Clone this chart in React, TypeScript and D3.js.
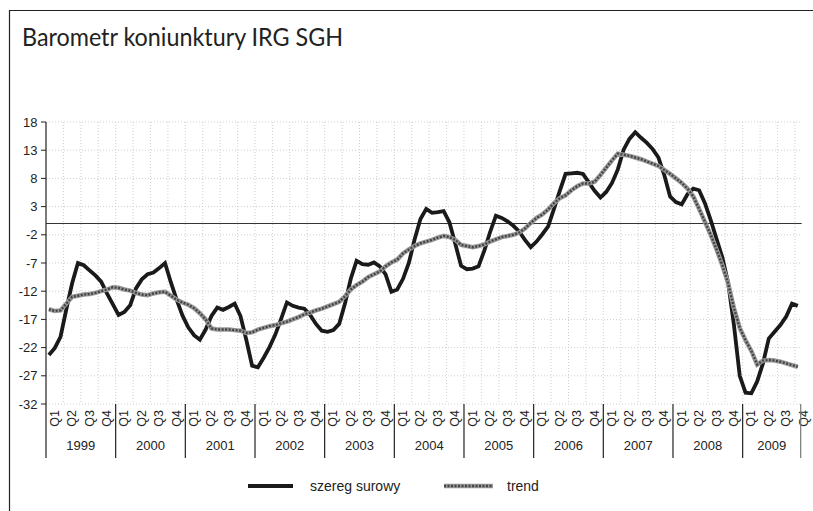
import React, { useRef, useEffect } from 'react';
import * as d3 from 'd3';

// dane miesieczne: 1999-01 .. 2009-10
const years = ['1999', '2000', '2001', '2002', '2003', '2004', '2005', '2006', '2007', '2008', '2009'];
const quarters = ['Q1', 'Q2', 'Q3', 'Q4'];
const yTicks = [18, 13, 8, 3, -2, -7, -12, -17, -22, -27, -32];

const rawSeries = [
  -23.3, -22.1, -20.1, -15.2, -10.6, -7.0, -7.4, -8.3, -9.2, -10.3, -12.4, -14.3, // 1999
  -16.2, -15.7, -14.5, -11.5, -9.9, -9.0, -8.7, -7.9, -7.0, -10.4, -13.5, -16.3, // 2000
  -18.4, -19.8, -20.6, -18.8, -16.4, -14.9, -15.3, -14.8, -14.2, -16.4, -20.6, -25.2, // 2001
  -25.5, -23.8, -21.9, -19.7, -16.9, -14.0, -14.6, -14.9, -15.1, -16.2, -17.8, -19.0, // 2002
  -19.2, -18.9, -17.8, -14.2, -9.8, -6.6, -7.2, -7.3, -6.9, -7.6, -9.0, -12.1, // 2003
  -11.7, -9.8, -7.0, -2.8, 0.8, 2.6, 1.9, 2.0, 2.2, 0.2, -3.6, -7.5, // 2004
  -8.1, -8.0, -7.6, -4.8, -1.5, 1.4, 1.0, 0.4, -0.4, -1.4, -2.9, -4.2, // 2005
  -3.2, -1.9, -0.5, 2.6, 5.8, 8.8, 8.9, 9.0, 8.8, 7.3, 5.8, 4.6, // 2006
  5.6, 7.2, 9.6, 13.1, 15.0, 16.2, 15.2, 14.3, 13.2, 11.7, 8.6, 4.8, // 2007
  3.8, 3.4, 5.2, 6.2, 5.9, 3.6, 0.6, -2.7, -6.0, -10.5, -18.0, -27.0, // 2008
  -30.0, -30.1, -28.0, -24.8, -20.4, -19.2, -18.0, -16.5, -14.2, -14.6 // 2009
];

const trendSeries = [
  -15.2, -15.5, -15.4, -14.2, -13.0, -12.8, -12.6, -12.5, -12.3, -12.0, -11.7, -11.3, // 1999
  -11.4, -11.7, -11.9, -12.3, -12.6, -12.7, -12.4, -12.2, -12.1, -12.8, -13.5, -14.0, // 2000
  -14.4, -15.0, -15.9, -17.0, -18.6, -18.8, -18.8, -18.8, -18.9, -19.0, -19.4, -19.3, // 2001
  -18.8, -18.5, -18.2, -18.0, -17.7, -17.4, -17.0, -16.6, -16.1, -15.8, -15.4, -15.1, // 2002
  -14.7, -14.3, -13.9, -12.9, -11.7, -10.9, -10.3, -9.5, -9.0, -8.5, -7.6, -6.9, // 2003
  -6.4, -5.3, -4.6, -4.0, -3.5, -3.2, -2.9, -2.5, -2.2, -2.4, -2.9, -3.8, // 2004
  -4.0, -4.2, -4.0, -3.7, -3.2, -2.8, -2.4, -2.2, -2.0, -1.6, -0.9, 0.1, // 2005
  1.0, 1.6, 2.5, 3.6, 4.5, 5.0, 5.9, 6.6, 7.1, 7.1, 7.4, 8.6, // 2006
  9.9, 11.2, 12.4, 12.2, 12.0, 11.7, 11.4, 11.0, 10.6, 10.2, 9.5, 8.8, // 2007
  8.0, 7.2, 6.2, 4.8, 2.6, 0.3, -2.0, -4.6, -7.4, -10.6, -15.0, -18.5, // 2008
  -20.7, -22.6, -25.0, -24.3, -24.2, -24.3, -24.5, -24.8, -25.1, -25.4 // 2009
];

const legendItems = ['szereg surowy', 'trend'];

const draw = (svgRef) => {
  const svg = d3.select(svgRef.current);
  svg.selectAll('*').remove();

  const left = 46, right = 800.7, top = 122, bottom = 404;
  const nMonths = rawSeries.length;

  const x = d3.scaleLinear().domain([0, nMonths]).range([left, right]);
  const y = d3.scaleLinear().domain([-32, 18]).range([bottom, top]);
  const font = 'Liberation Sans, Arial, sans-serif';

  // ramka (tylko lewa i gorna krawedz widoczna)
  svg.append('path')
    .attr('d', 'M9.5,520 L9.5,10.5 L830,10.5')
    .attr('fill', 'none').attr('stroke', '#222').attr('stroke-width', 1.2);

  svg.append('text')
    .attr('x', 22).attr('y', 46)
    .attr('font-family', 'Lato, sans-serif')
    .attr('font-size', 25)
    .attr('fill', '#222')
    .attr('textLength', 321)
    .attr('lengthAdjust', 'spacingAndGlyphs')
    .text('Barometr koniunktury IRG SGH');

  // siatka
  const grid = svg.append('g')
    .attr('stroke', '#cfcfcf')
    .attr('stroke-width', 1)
    .attr('stroke-dasharray', '1,2');
  yTicks.forEach(t => {
    grid.append('line')
      .attr('x1', left).attr('x2', right)
      .attr('y1', y(t)).attr('y2', y(t));
  });
  d3.range(3, nMonths, 3).forEach(m => {
    grid.append('line')
      .attr('x1', x(m)).attr('x2', x(m))
      .attr('y1', top).attr('y2', bottom);
  });

  // os Y
  const yAxis = svg.append('g');
  yAxis.append('line')
    .attr('x1', left).attr('x2', left)
    .attr('y1', top).attr('y2', 458)
    .attr('stroke', '#222').attr('stroke-width', 1.2);
  yTicks.forEach(t => {
    yAxis.append('line')
      .attr('x1', left - 5).attr('x2', left)
      .attr('y1', y(t)).attr('y2', y(t))
      .attr('stroke', '#222');
    yAxis.append('text')
      .attr('x', 37.5).attr('y', y(t))
      .attr('dy', '0.35em')
      .attr('text-anchor', 'end')
      .attr('font-family', font)
      .attr('font-size', 13)
      .attr('fill', '#222')
      .text(t);
  });

  // os X (przecina w zerze)
  svg.append('line')
    .attr('x1', left).attr('x2', right + 1)
    .attr('y1', y(0)).attr('y2', y(0))
    .attr('stroke', '#333').attr('stroke-width', 1.2);

  const xAxis = svg.append('g');
  years.forEach((yr, i) => {
    if (i > 0) {
      xAxis.append('line')
        .attr('x1', x(i * 12)).attr('x2', x(i * 12))
        .attr('y1', bottom).attr('y2', 458)
        .attr('stroke', '#222').attr('stroke-width', 1.2);
    }
    quarters.forEach((q, j) => {
      const cx = x(i * 12 + j * 3 + 1.5);
      xAxis.append('text')
        .attr('transform', `translate(${cx},${bottom + 6}) rotate(-90)`)
        .attr('text-anchor', 'end')
        .attr('dominant-baseline', 'central')
        .attr('font-family', font)
        .attr('font-size', 12.5)
        .attr('fill', '#222')
        .text(q);
    });
    const c0 = x(i * 12);
    const c1 = Math.min(x(i * 12 + 12), right);
    xAxis.append('text')
      .attr('x', (c0 + c1) / 2).attr('y', 450)
      .attr('text-anchor', 'middle')
      .attr('font-family', font)
      .attr('font-size', 13)
      .attr('fill', '#222')
      .text(yr);
  });
  xAxis.append('line')
    .attr('x1', right).attr('x2', right)
    .attr('y1', bottom).attr('y2', 458)
    .attr('stroke', '#777').attr('stroke-width', 1.2);

  const line = d3.line()
    .x((d, i) => x(i + 0.5))
    .y(d => y(d));

  // szereg surowy
  svg.append('path')
    .datum(rawSeries)
    .attr('fill', 'none')
    .attr('stroke', '#1a1a1a')
    .attr('stroke-width', 3.8)
    .attr('stroke-linejoin', 'miter')
    .attr('d', line);

  // trend
  svg.append('path')
    .datum(trendSeries)
    .attr('fill', 'none')
    .attr('stroke', '#999')
    .attr('stroke-width', 4.5)
    .attr('d', line);
  svg.append('path')
    .datum(trendSeries)
    .attr('fill', 'none')
    .attr('stroke', '#444')
    .attr('stroke-width', 2.4)
    .attr('stroke-dasharray', '2,1.5')
    .attr('d', line);

  // legenda
  const leg = svg.append('g');
  const ly = 486;
  leg.append('line')
    .attr('x1', 248).attr('x2', 293)
    .attr('y1', ly).attr('y2', ly)
    .attr('stroke', '#1a1a1a').attr('stroke-width', 4);
  leg.append('line')
    .attr('x1', 444).attr('x2', 493)
    .attr('y1', ly).attr('y2', ly)
    .attr('stroke', '#999').attr('stroke-width', 4.5);
  leg.append('line')
    .attr('x1', 444).attr('x2', 493)
    .attr('y1', ly).attr('y2', ly)
    .attr('stroke', '#444').attr('stroke-width', 2.4)
    .attr('stroke-dasharray', '2,1.5');
  [310, 507].forEach((lx, i) => {
    leg.append('text')
      .attr('x', lx).attr('y', ly)
      .attr('dy', '0.35em')
      .attr('font-family', font)
      .attr('font-size', 14)
      .attr('fill', '#222')
      .text(legendItems[i]);
  });
};

export default function App() {
  const svgRef = useRef(null);

  useEffect(() => {
    document.body.style.margin = '0';
    document.body.style.overflow = 'hidden';
    draw(svgRef);
  }, []);

  return (
    <svg ref={svgRef} width={813} height={511}
      style={{ position: 'absolute', left: 0, top: 0, background: 'white', display: 'block' }} />
  );
}
